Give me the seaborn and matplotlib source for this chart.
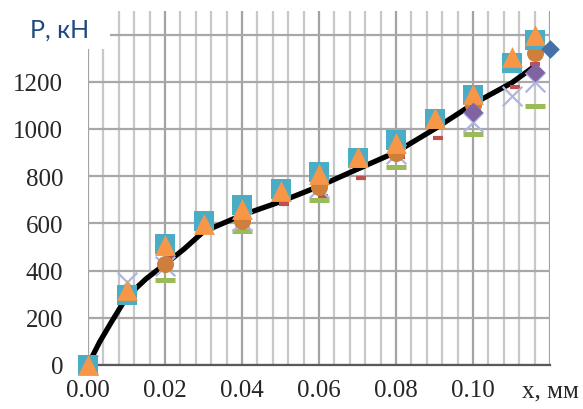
import matplotlib
matplotlib.use("Agg")
import matplotlib.pyplot as plt
import seaborn as sns
from matplotlib.ticker import FixedLocator, MultipleLocator
from matplotlib.patches import Rectangle

# Fitted load-displacement curve
curve_x = [0.0, 0.003, 0.006, 0.009, 0.012, 0.015, 0.018, 0.021, 0.025, 0.03,
           0.035, 0.04, 0.05, 0.06, 0.07, 0.08, 0.09, 0.10, 0.11, 0.1155]
curve_p = [0, 97, 180, 260, 318, 364, 402, 440, 492, 565,
           600, 635, 692, 757, 830, 902, 1000, 1106, 1195, 1260]

# Test series (displacement, mm / load, kN)
square_x = [0.0, 0.01, 0.02, 0.03, 0.04, 0.05, 0.06, 0.07, 0.08, 0.09, 0.10, 0.11, 0.116]
square_p = [0, 297, 513, 610, 678, 746, 818, 877, 953, 1042, 1144, 1280, 1377]

triangle_x = [0.0, 0.01, 0.02, 0.03, 0.04, 0.05, 0.06, 0.07, 0.08, 0.09, 0.10, 0.11, 0.116]
triangle_p = [0, 318, 508, 598, 663, 738, 808, 880, 940, 1045, 1150, 1305, 1400]

cross_x = [0.0, 0.01, 0.02, 0.04, 0.06, 0.08, 0.10, 0.11, 0.116]
cross_p = [0, 352, 418, 612, 748, 894, 1030, 1140, 1200]

circle_x = [0.02, 0.04, 0.06, 0.08, 0.10, 0.116]
circle_p = [428, 610, 755, 900, 1100, 1322]

purple_x = [0.10, 0.116]
purple_p = [1072, 1242]

red_x = [0.021, 0.041, 0.051, 0.061, 0.071, 0.081, 0.091, 0.111, 0.116]
red_p = [453, 614, 682, 717, 792, 881, 962, 1178, 1275]

green_x = [0.02, 0.04, 0.06, 0.08, 0.10, 0.116]
green_p = [360, 569, 699, 840, 979, 1099]

blue_x = [0.12]
blue_p = [1340]

x_ticks = [0.00, 0.02, 0.04, 0.06, 0.08, 0.10, 0.12]
x_tick_labels = ["0.00", "0.02", "0.04", "0.06", "0.08", "0.10", "x, мм"]
y_ticks = [0, 200, 400, 600, 800, 1000, 1200, 1400]
y_tick_labels = ["0", "200", "400", "600", "800", "1000", "1200", ""]

sns.set_style("white")
plt.rcParams["font.family"] = ["Liberation Serif", "DejaVu Serif"]

fig = plt.figure(figsize=(5.83, 4.10), dpi=100)
ax = fig.add_axes([88 / 583, 44 / 410, 462 / 583, 354 / 410])

sns.lineplot(x=curve_x, y=curve_p, color="black", linewidth=3.8, sort=False,
             estimator=None, ax=ax, zorder=2)

sns.scatterplot(x=red_x, y=red_p, marker="_", s=45, color="#C0504D",
                edgecolor="#C0504D", linewidth=3.0, ax=ax, zorder=3, clip_on=False)
sns.scatterplot(x=green_x, y=green_p, marker="_", s=190, color="#9BBB59",
                edgecolor="#9BBB59", linewidth=3.6, ax=ax, zorder=3, clip_on=False)
sns.scatterplot(x=cross_x, y=cross_p, marker="x", s=200, color="#AEB6DC",
                edgecolor="#AEB6DC", linewidth=1.6, ax=ax, zorder=4, clip_on=False)
sns.scatterplot(x=circle_x, y=circle_p, marker="o", s=150, color="#CF7F3C",
                edgecolor="#CF7F3C", linewidth=0, ax=ax, zorder=5, clip_on=False)
sns.scatterplot(x=square_x, y=square_p, marker="s", s=205, color="#4BACC6",
                edgecolor="#4BACC6", linewidth=0, ax=ax, zorder=6, clip_on=False)
sns.scatterplot(x=triangle_x, y=triangle_p, marker="^", s=225, color="#F79646",
                edgecolor="#F79646", linewidth=0, ax=ax, zorder=7, clip_on=False)
sns.scatterplot(x=purple_x, y=purple_p, marker="D", s=100, color="#8064A2",
                edgecolor="#8064A2", linewidth=0, ax=ax, zorder=8, clip_on=False)
sns.scatterplot(x=blue_x, y=blue_p, marker="D", s=90, color="#4472A8",
                edgecolor="#4472A8", linewidth=0, ax=ax, zorder=8, clip_on=False)

ax.set_xlim(0, 0.12)
ax.set_ylim(0, 1500)

ax.xaxis.set_major_locator(FixedLocator(x_ticks))
ax.xaxis.set_minor_locator(MultipleLocator(0.004))
ax.set_xticklabels(x_tick_labels)
ax.yaxis.set_major_locator(FixedLocator(y_ticks))
ax.set_yticklabels(y_tick_labels)

ax.grid(which="major", axis="x", color="#A3A3A3", linewidth=1.6)
ax.grid(which="minor", axis="x", color="#C8C8C8", linewidth=1.6)
ax.grid(which="major", axis="y", color="#A8A8A8", linewidth=1.6)
ax.set_axisbelow(True)

for side in ("left", "top", "right"):
    ax.spines[side].set_visible(False)
ax.spines["bottom"].set_color("#595959")
ax.spines["bottom"].set_linewidth(1.6)
ax.spines["bottom"].set_zorder(2.5)

ax.tick_params(axis="x", which="major", direction="out", length=5.8, width=1.6,
               color="#595959", pad=4.5, labelsize=18, labelcolor="#262626")
ax.tick_params(axis="x", which="minor", length=0)
ax.tick_params(axis="y", which="major", direction="out", length=4.3, width=1.6,
               color="#A8A8A8", pad=13.5, labelsize=18, labelcolor="#262626")
ax.set_xlabel("")
ax.set_ylabel("")

# blank corner behind the axis title
fig.add_artist(Rectangle((0, 1 - 50 / 410), 110 / 583, 50 / 410,
                         transform=fig.transFigure, facecolor="white",
                         edgecolor="none", zorder=5))
fig.text(30 / 583, 1 - 38 / 410, "P, кН", fontfamily=["Lato", "DejaVu Sans"],
         fontsize=18, color="#1F497D", ha="left", va="baseline", zorder=6)

fig.savefig("out.png", dpi=100, facecolor="white")
